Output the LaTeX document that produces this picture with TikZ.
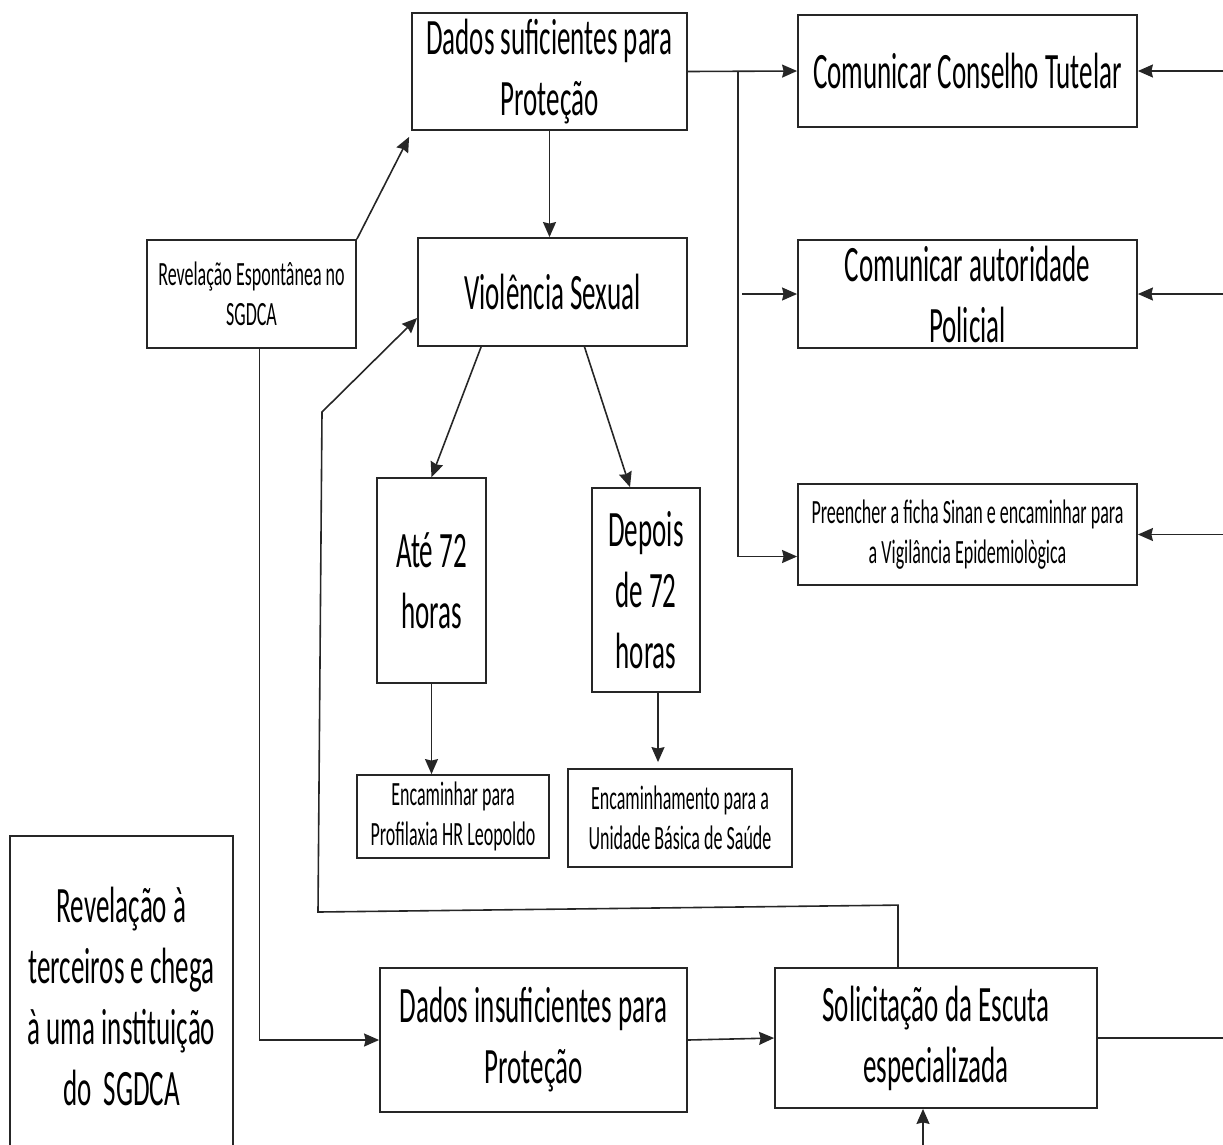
\documentclass[tikz,border=0pt]{standalone}
\usepackage{fontspec}
\setmainfont{Carlito}[FakeStretch=0.53]
\usetikzlibrary{arrows.meta}
\begin{document}
\begin{tikzpicture}[x=1pt, y=-1pt, >={Stealth[length=15pt,width=13pt,inset=1.5pt]},
    line width=1.6pt, color=black!85,
    box/.style={draw, line width=1.8pt, inner sep=0pt, align=center, text=black},
    big/.style={box, font=\fontsize{51}{61}\selectfont},
    small/.style={box, font=\fontsize{34}{40}\selectfont}]
    \useasboundingbox (0,0) rectangle (1223,1144);
    % boxes
    \node[big, minimum width=275pt, minimum height=117pt] (dsuf) at (549.5, 71.5) {Dados suficientes para\\Proteção};
    \node[big, minimum width=339pt, minimum height=112pt] (cons) at (967.5, 71) {Comunicar Conselho Tutelar};
    \node[small, minimum width=209pt, minimum height=108pt] (resp) at (251.5, 294) {Revelação Espontânea no\\SGDCA};
    \node[big, minimum width=269pt, minimum height=108pt] (viol) at (552.5, 292) {Violência Sexual};
    \node[big, minimum width=339pt, minimum height=108pt] (aut) at (967.5, 294) {Comunicar autoridade\\Policial};
    \node[small, minimum width=339pt, minimum height=101pt] (sinan) at (967.5, 534.5) {Preencher a ficha Sinan e encaminhar para\\a Vigilância Epidemiològica};
    \node[big, minimum width=109pt, minimum height=205pt] (ate) at (431.5, 580.5) {Até 72\\horas};
    \node[big, minimum width=108pt, minimum height=204pt] (dep) at (646, 590) {Depois\\de 72\\horas};
    \node[small, minimum width=192pt, minimum height=83pt] (prof) at (453, 816.5) {Encaminhar para\\Profilaxia HR Leopoldo};
    \node[small, minimum width=224pt, minimum height=98pt] (ubs) at (680, 818) {Encaminhamento para a\\Unidade Básica de Saúde};
    \node[big, minimum width=223pt, minimum height=320pt] (terc) at (121.5, 996) {Revelação à\\terceiros e chega\\à uma instituição\\do~ SGDCA};
    \node[big, minimum width=307pt, minimum height=144pt] (dins) at (533.5, 1040) {Dados insuficientes para\\Proteção};
    \node[big, minimum width=322pt, minimum height=140pt] (esc) at (936, 1038) {Solicitação da Escuta\\especializada};
    % helper points
    \coordinate (br) at (738, 71);
    \coordinate (rc) at (1223, 0);
    \coordinate (k1) at (318, 912);
    \coordinate (k2) at (322, 412);
    \coordinate (bt) at (923, 1150);
    % connectors
    \draw[->] (dsuf.east) -- (cons.west);
    \draw[->] (br) |- ([yshift=-22pt]sinan.west);
    \draw[->] ([xshift=4pt]br |- aut.west) -- (aut.west);
    \draw[->] (rc |- cons.east) -- (cons.east);
    \draw[->] (rc |- aut.east) -- (aut.east);
    \draw[->] (rc |- sinan.east) -- (sinan.east);
    \draw (esc.east) -- (rc |- esc.east);
    \draw[->] (dsuf.south) -- (dsuf.south |- viol.north);
    \draw[->] (resp.north east) -- ([xshift=-2pt,yshift=-6pt]dsuf.south west);
    \draw[->] ([xshift=8pt]resp.south) |- (dins.west);
    \draw[->] ([xshift=64pt]viol.south west) -- (ate.north);
    \draw[->] ([xshift=32pt]viol.south) -- ([xshift=-16pt]dep.north);
    \draw[->] (ate.south) -- (ate.south |- prof.north);
    \draw[->, shorten >=6pt] ([xshift=12pt]dep.south) -- ([xshift=12pt]dep.south |- ubs.north);
    \draw[->] ([xshift=-38pt]esc.north) -- ++(0,-62) -- (k1) -- (k2) -- ([yshift=-26pt]viol.west);
    \draw[->] (dins.east) -- (esc.west);
    \draw[->] (bt) -- (bt |- esc.south);
\end{tikzpicture}
\end{document}
